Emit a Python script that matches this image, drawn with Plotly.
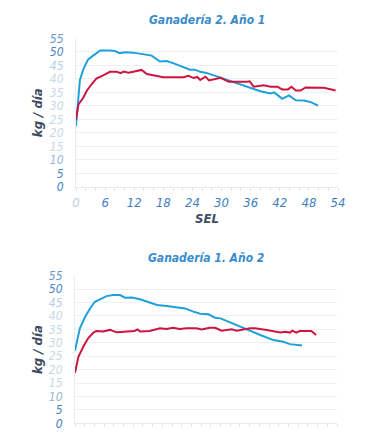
import plotly.graph_objects as go

# ---- data ----
sel_blue_a = [0, 0.8, 1.5, 2.5, 3.6, 5, 7, 8, 9, 10, 11.8, 13.9, 15.6, 17.3, 18.7, 20, 21.8, 23.5, 24.5, 25.6, 26.9, 29.8, 32.5, 35.3, 38, 40.1, 40.8, 41.7, 42.5, 43.9, 45.3, 47, 48.4, 49.9]
kg_blue_a = [22.5, 39.5, 43.5, 47.2, 48.7, 50.5, 50.5, 50.3, 49.5, 49.8, 49.7, 49.2, 48.6, 46.4, 46.6, 45.8, 44.5, 43.4, 43.4, 42.6, 42.2, 40.4, 38.8, 37.1, 35.4, 34.6, 35.0, 33.8, 32.6, 33.9, 32.1, 32.0, 31.4, 30.1]

sel_red_a = [0, 0.5, 1.5, 2.2, 3.2, 4.2, 5.6, 7, 8.4, 9.2, 9.8, 10.8, 11.8, 13.5, 14.6, 16, 17.3, 18, 20, 22.1, 23.2, 24.2, 25, 25.6, 26.7, 27.4, 29.8, 31.5, 35.3, 35.8, 36.6, 38.7, 40.1, 41.5, 42.5, 43.7, 44.4, 45.3, 46.3, 47.3, 51.1, 53.5]
kg_red_a = [24.9, 30.5, 33, 35.5, 38, 40.1, 41.3, 42.6, 42.6, 42.1, 42.7, 42.3, 42.6, 43.3, 41.8, 41.3, 41.1, 40.6, 40.6, 40.6, 41.1, 40.3, 40.7, 39.6, 40.8, 39.4, 40.4, 38.9, 38.9, 39.1, 37.1, 37.6, 37.1, 37.1, 36.1, 36.1, 37.1, 35.7, 35.7, 36.8, 36.7, 35.7]

sel_blue_b = [0, 1, 2.1, 3.1, 4.1, 5.5, 6.5, 7.9, 9.3, 10.3, 11.7, 13.4, 15.1, 16.9, 18.9, 21, 22.7, 24.4, 25.8, 27.5, 28.9, 30, 32.7, 35.5, 38.2, 40.9, 42.9, 44.3, 45.7, 46.8]
kg_blue_b = [27, 35.4, 39.7, 42.8, 45.3, 46.6, 47.4, 47.8, 47.8, 46.8, 46.9, 46.2, 45.1, 44.1, 43.7, 43.3, 42.8, 41.6, 40.8, 40.6, 39.3, 39.1, 37.0, 35.0, 32.9, 31.0, 30.4, 29.5, 29.1, 29.0]

sel_red_b = [0, 0.7, 1.7, 2.7, 3.8, 4.4, 5.8, 7.2, 8.6, 10.6, 12.3, 12.9, 13.4, 15.4, 17.5, 18.9, 20.2, 21.6, 23, 25, 26.1, 27.8, 28.9, 30.2, 32.3, 33.3, 34.7, 36.1, 37.1, 39.5, 42.3, 43.3, 44.3, 44.8, 45.6, 46.3, 48.7, 49.7]
kg_red_b = [18.8, 24.8, 28.5, 31.7, 33.8, 34.4, 34.2, 34.8, 33.9, 34.2, 34.4, 35.0, 34.2, 34.4, 35.4, 35.1, 35.6, 35.1, 35.4, 35.4, 35.0, 35.6, 35.6, 34.5, 35.0, 34.5, 35.0, 35.4, 35.4, 34.8, 33.8, 34.1, 33.8, 34.5, 33.8, 34.4, 34.4, 32.9]

y_ticks = [0, 5, 10, 15, 20, 25, 30, 35, 40, 45, 50, 55]
y_tick_colors = ["#3f7fbf", "#4a86c2", "#98b6d4", "#c9d8e6", "#c9d8e6", "#c9d8e6", "#c9d8e6", "#c9d8e6", "#c9d8e6", "#b9cde0", "#4a86c2", "#6a98c8"]
x_ticks = [0, 6, 12, 18, 24, 30, 36, 42, 48, 54]
x_tick_colors = ["#b9d0e3"] + ["#3f7fbf"] * 9

titles = ["Ganadería 2. Año 1", "Ganadería 1. Año 2"]
y_title = "kg / día"
x_title = "SEL"

BLUE = "#1ea0da"
RED = "#cc1540"
FONT = "DejaVu Sans Condensed, Liberation Sans Narrow, sans-serif"
W, H = 376, 433

def colored(vals, cols):
    return [f"<span style='color:{c}'><i>{v}</i></span>" for v, c in zip(vals, cols)]

fig = go.Figure()
fig.add_trace(go.Scatter(x=sel_blue_a, y=kg_blue_a, mode="lines", line=dict(color=BLUE, width=2), xaxis="x", yaxis="y", showlegend=False))
fig.add_trace(go.Scatter(x=sel_red_a, y=kg_red_a, mode="lines", line=dict(color=RED, width=2), xaxis="x", yaxis="y", showlegend=False))
fig.add_trace(go.Scatter(x=sel_blue_b, y=kg_blue_b, mode="lines", line=dict(color=BLUE, width=2), xaxis="x2", yaxis="y2", showlegend=False))
fig.add_trace(go.Scatter(x=sel_red_b, y=kg_red_b, mode="lines", line=dict(color=RED, width=2), xaxis="x2", yaxis="y2", showlegend=False))

# pixel geometry
p1 = dict(l=76, r=338, t=38.3, b=187)
p2 = dict(l=75, r=337, t=275.7, b=423.3)

def xdom(p):
    return [p["l"] / W, p["r"] / W]

def ydom(p):
    return [1 - p["b"] / H, 1 - p["t"] / H]

common_y = dict(range=[0, 55], tickvals=y_ticks, ticktext=colored(y_ticks, y_tick_colors),
                showgrid=True, gridcolor="#eef1f4", gridwidth=1, zeroline=False,
                showline=True, linecolor="#e6edf3", linewidth=1, automargin=False,
                ticks="outside", ticklen=9, tickcolor="rgba(0,0,0,0)",
                tickfont=dict(family=FONT, size=12), fixedrange=True)
common_x = dict(range=[0, 54], tickvals=x_ticks, showgrid=False, zeroline=False,
                showline=True, linecolor="#e6eaee", linewidth=1, automargin=False,
                ticks="outside", ticklen=3, tickcolor="#dfe4ea",
                minor=dict(dtick=2, tick0=0, ticks="outside", ticklen=3, tickcolor="#dfe4ea"),
                tickfont=dict(family=FONT, size=13), fixedrange=True)

fig.update_layout(
    width=W, height=H, autosize=False,
    margin=dict(l=0, r=0, t=0, b=0),
    paper_bgcolor="white", plot_bgcolor="white",
    xaxis=dict(common_x, domain=xdom(p1), anchor="y", ticktext=colored(x_ticks, x_tick_colors)),
    yaxis=dict(common_y, domain=ydom(p1), anchor="x"),
    xaxis2=dict(common_x, domain=xdom(p2), anchor="y2", showticklabels=False, ticktext=colored(x_ticks, x_tick_colors)),
    yaxis2=dict(common_y, domain=ydom(p2), anchor="x2"),
)

for p, t in [(p1, titles[0]), (p2, titles[1])]:
    cx = (p["l"] + p["r"]) / 2 / W
    fig.add_annotation(text=f"<b><i>{t}</i></b>", x=cx, y=1 - (p["t"] - 18) / H, xref="paper", yref="paper",
                       xanchor="center", yanchor="middle", showarrow=False,
                       font=dict(family=FONT, size=12, color="#3a8ccb"))
    fig.add_annotation(text=f"<b><i>{y_title}</i></b>", x=37.5 / W, y=1 - (p["t"] + p["b"]) / 2 / H,
                       xref="paper", yref="paper", xanchor="center", yanchor="middle", textangle=-90,
                       showarrow=False, font=dict(family=FONT, size=13, color="#3d4c62"))

fig.add_annotation(text=f"<b><i>{x_title}</i></b>", x=(p1["l"] + p1["r"]) / 2 / W, y=1 - 218 / H,
                   xref="paper", yref="paper", xanchor="center", yanchor="middle", showarrow=False,
                   font=dict(family=FONT, size=13, color="#3d4c62"))

fig.write_html("out.html", config={"displayModeBar": False, "staticPlot": True},
               post_script="document.body.style.margin='0';document.body.style.overflow='hidden';")
